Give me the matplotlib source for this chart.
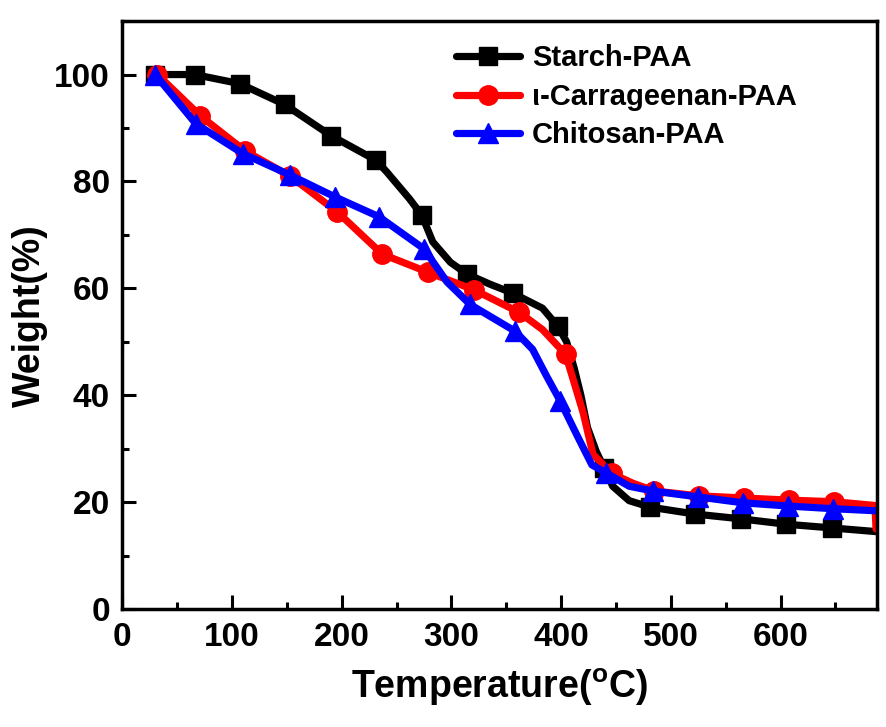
import matplotlib
matplotlib.use("Agg")
import matplotlib.pyplot as plt
from matplotlib.ticker import MultipleLocator

plt.rcParams['font.family'] = ['Liberation Sans', 'DejaVu Sans']
plt.rcParams['font.weight'] = 'bold'
plt.rcParams['mathtext.fontset'] = 'custom'
plt.rcParams['mathtext.rm'] = 'Liberation Sans:bold'
plt.rcParams['mathtext.bf'] = 'Liberation Sans:bold'

# ---- data ----
starch_T = [30, 66, 107, 148, 190, 231, 241, 262, 273, 283, 299, 314, 335, 356, 383, 397, 405, 412,
            418, 424, 432, 439, 447, 462, 481, 522, 564, 605, 647, 688]
starch_W = [100, 100, 98.3, 94.4, 88.6, 84.0, 81.8, 76.7, 73.7, 68.7, 64.9, 62.7, 60.8, 59.1, 56.3, 52.9, 50.0, 45.0,
            40.0, 34.0, 29.5, 26.5, 23.0, 20.3, 19.1, 17.8, 16.9, 15.9, 15.2, 14.5]
starch_mark_T = [30, 66, 107, 148, 190, 231, 273, 314, 356, 397, 439, 481, 522, 564, 605, 647]

carr_T = [32, 71, 112, 153, 196, 237, 279, 321, 362, 383, 404, 420, 429, 446, 465, 485,
          526, 567, 608, 649, 686, 687]
carr_W = [100, 92.3, 85.7, 81.0, 74.3, 66.4, 63.0, 59.7, 55.5, 52.3, 47.7, 36.8, 29.0, 25.4, 23.6, 22.1,
          21.2, 20.8, 20.4, 20.1, 19.4, 15.0]
carr_mark_T = [32, 71, 112, 153, 196, 237, 279, 321, 362, 404, 446, 485, 526, 567, 608, 649]

chit_T = [30, 67, 110, 153, 194, 234, 275, 296, 317, 358, 374, 387, 399, 415, 428, 441,
          462, 484, 525, 566, 607, 648, 688]
chit_W = [100, 90.8, 85.2, 81.2, 77.1, 73.4, 67.4, 61.2, 57.0, 52.0, 48.6, 43.5, 39.0, 32.3, 27.0, 25.5,
          23.0, 22.1, 21.0, 19.9, 19.3, 18.8, 18.4]
chit_mark_T = [30, 67, 110, 153, 194, 234, 275, 317, 358, 399, 441, 484, 525, 566, 607, 648]

labels = ['Starch-PAA', '\u03b9-Carrageenan-PAA', 'Chitosan-PAA']
x_ticks = [0, 100, 200, 300, 400, 500, 600]
y_ticks = [0, 20, 40, 60, 80, 100]

fig = plt.figure(figsize=(8.86, 7.27), dpi=100)
ax = fig.add_axes([0.138, 0.162, 0.852, 0.809])

series = [
    (starch_T, starch_W, starch_mark_T, 'black', 's', labels[0], 13),
    (carr_T, carr_W, carr_mark_T, 'red', 'o', labels[1], 14),
    (chit_T, chit_W, chit_mark_T, 'blue', '^', labels[2], 15),
]
for T, W, MT, c, m, lab, ms in series:
    idx = [T.index(t) for t in MT]
    ax.plot(T, W, color=c, lw=5.2, marker=m, markersize=ms, markevery=idx,
            label=lab, solid_joinstyle='round', solid_capstyle='round')

ax.set_xlim(0, 688)
ax.set_ylim(0, 110)
ax.set_xticks(x_ticks)
ax.set_yticks(y_ticks)
ax.xaxis.set_minor_locator(MultipleLocator(50))
ax.yaxis.set_minor_locator(MultipleLocator(10))
ax.tick_params(which='major', direction='in', length=10, width=2.2, labelsize=24, pad=9)
ax.tick_params(which='minor', direction='in', length=5, width=2.2)
for lab in ax.get_xticklabels() + ax.get_yticklabels():
    lab.set_fontweight('bold')
for s in ax.spines.values():
    s.set_linewidth(2.5)

ax.set_xlabel('Temperature($^{\\mathbf{o}}$C)', fontsize=27, fontweight='bold', labelpad=10)
ax.set_ylabel('Weight(%)', fontsize=27, fontweight='bold', labelpad=4)

leg = ax.legend(loc='upper left', bbox_to_anchor=(0.415, 0.995), frameon=False,
                fontsize=21, handlelength=2.2, handletextpad=0.4, labelspacing=0.36,
                borderaxespad=0.3)
for t in leg.get_texts():
    t.set_fontweight('bold')

fig.savefig('out.png', dpi=100)
